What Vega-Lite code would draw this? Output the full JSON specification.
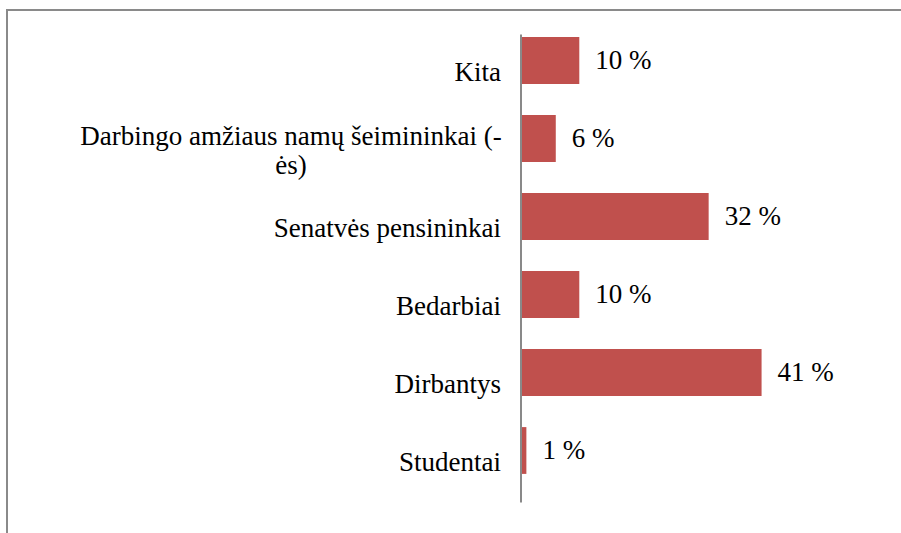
{
  "$schema": "https://vega.github.io/schema/vega-lite/v6.json",
  "width": 930,
  "height": 560,
  "autosize": {"type": "none"},
  "padding": {"left": 7, "top": 10, "right": -36, "bottom": -37},
  "background": "white",
  "config": {
    "view": {"stroke": "#8a8a8a", "strokeWidth": 2},
    "font": "Liberation Serif"
  },
  "data": {
    "values": [
      {"category": "Kita", "share": 10},
      {"category": "Darbingo amžiaus namų šeimininkai (-ės)", "share": 6},
      {"category": "Senatvės pensininkai", "share": 32},
      {"category": "Bedarbiai", "share": 10},
      {"category": "Dirbantys", "share": 41},
      {"category": "Studentai", "share": 1}
    ]
  },
  "transform": [{"calculate": "datum.share + ' %'", "as": "label"}],
  "encoding": {
    "y": {
      "field": "category",
      "type": "nominal",
      "sort": ["Kita", "Darbingo amžiaus namų šeimininkai (-ės)", "Senatvės pensininkai", "Bedarbiai", "Dirbantys", "Studentai"],
      "scale": {"range": [24, 492], "paddingInner": 0, "paddingOuter": 0},
      "axis": {
        "title": null,
        "offset": -513.5,
        "ticks": false,
        "grid": false,
        "domainColor": "#898989",
        "domainWidth": 2,
        "labelFont": "Liberation Serif",
        "labelFontSize": 27,
        "labelColor": "#000000",
        "labelLimit": 800,
        "labelLineHeight": 29,
        "labelExpr": "datum.value == 'Darbingo amžiaus namų šeimininkai (-ės)' ? ['Darbingo amžiaus namų šeimininkai (-', 'ės)'] : datum.label",
        "labelAlign": {"condition": {"test": "indexof(datum.value, 'Darbingo') === 0", "value": "center"}, "value": "right"},
        "labelPadding": {"condition": {"test": "indexof(datum.value, 'Darbingo') === 0", "value": 230}, "value": 20},
        "labelOffset": {"condition": {"test": "indexof(datum.value, 'Darbingo') === 0", "value": -14}, "value": 0},
        "zindex": 1
      }
    },
    "x": {
      "field": "share",
      "type": "quantitative",
      "scale": {"domain": [0, 50], "range": [513.5, 807.5], "nice": false, "zero": true},
      "axis": null
    }
  },
  "layer": [
    {
      "mark": {"type": "bar", "color": "#C0504D", "height": {"band": 0.6}, "yOffset": -12.5}
    },
    {
      "mark": {"type": "text", "align": "left", "baseline": "middle", "dx": 16, "yOffset": -12.5, "fontSize": 27, "font": "Liberation Serif", "color": "#000000"},
      "encoding": {"text": {"field": "label", "type": "nominal"}}
    }
  ]
}
